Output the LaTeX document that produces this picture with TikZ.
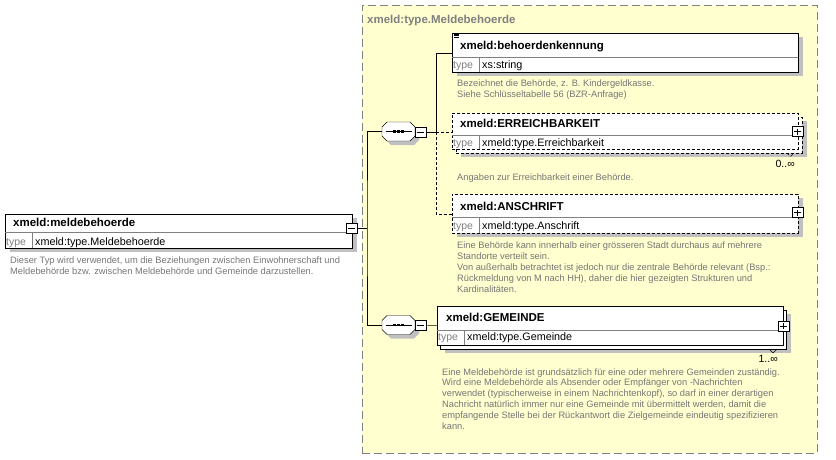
\documentclass[tikz,border=0pt]{standalone}
\usepackage{fontspec}
\setmainfont{Liberation Sans}
\usetikzlibrary{positioning}

\definecolor{groupfill}{RGB}{255,255,208}
\definecolor{groupline}{RGB}{128,128,128}
\definecolor{boxshade}{RGB}{192,192,192}
\definecolor{doctext}{RGB}{118,118,118}

\tikzset{
  elembox/.style={rectangle,draw=black,fill=white,inner sep=0pt,anchor=north west,minimum width=346pt,minimum height=39pt},
  shade box/.style={fill=boxshade,draw=none},
  optline/.style={dash pattern=on 3pt off 2pt},
  optbox/.style={elembox,optline},
  elemname/.style={anchor=base west,inner sep=0pt,font=\bfseries\fontsize{11.5}{13}\selectfont},
  typelbl/.style={anchor=base west,inner sep=0pt,text=groupline,font=\fontsize{10.5}{12}\selectfont},
  typeval/.style={anchor=base west,inner sep=0pt,font=\fontsize{10.8}{12}\selectfont},
  docline/.style={anchor=base west,inner sep=0pt,text=doctext,font=\fontsize{9.3}{11}\selectfont},
  occur/.style={anchor=base east,inner sep=0pt,font=\fontsize{10.5}{12}\selectfont},
  togglebox/.style={rectangle,draw=black,fill=white,inner sep=0pt,minimum width=11pt,minimum height=10pt},
  minusbox/.style={togglebox,path picture={
      \draw ([xshift=2pt]path picture bounding box.west) -- ([xshift=-2pt]path picture bounding box.east);}},
  plusbox/.style={togglebox,path picture={
      \draw ([xshift=2pt]path picture bounding box.west) -- ([xshift=-2pt]path picture bounding box.east);
      \draw ([yshift=-2pt]path picture bounding box.north) -- ([yshift=2pt]path picture bounding box.south);}},
  seqicon/.pic={
    \fill[boxshade,shift={(4,4)}] (-11.5,-9.5) -- (11.5,-9.5) -- (16.5,-4.5) -- (16.5,4.5)
        -- (11.5,9.5) -- (-11.5,9.5) -- (-16.5,4.5) -- (-16.5,-4.5) -- cycle;
    \draw[fill=white] (-11.5,-9.5) -- (11.5,-9.5) -- (16.5,-4.5) -- (16.5,4.5)
        -- (11.5,9.5) -- (-11.5,9.5) -- (-16.5,4.5) -- (-16.5,-4.5) -- cycle;
    \draw (-13,0) -- (13,0);
    \foreach \d in {-4,0,4}
      \fill[black] (\d-1.3,-1.3) rectangle (\d+1.3,1.3);
    \node[rectangle,inner sep=0pt,minimum width=33pt,minimum height=19pt] (-box) at (0,0) {};
    \node[minusbox,anchor=west] (-toggle) at (16,0.5) {};
  }
}

\begin{document}
\begin{tikzpicture}[x=1pt,y=-1pt]
  \useasboundingbox (0,0) rectangle (836,459);

  % complex type group
  \node[rectangle,draw=groupline,fill=groupfill,dash pattern=on 8pt off 4pt,inner sep=0pt,anchor=north west,
        minimum width=455pt,minimum height=448pt] (typegroup) at (362,5) {};
  \node[anchor=base west,inner sep=0pt,text=groupline,font=\bfseries\fontsize{11.5}{13}\selectfont] (typegroup-title) at (367,23.5) {xmeld:type.Meldebehoerde};

  % root element
  \fill[shade box] (10,218) rectangle (357,252);
  \node[elembox,minimum width=347pt,minimum height=34pt] (meldebehoerde) at (5,214) {};
  \draw[groupline] (5,232) -- (352,232);
  \draw[groupline] (32,232) -- (32,248);
  \node[elemname] (meldebehoerde-name) at (13,226.5) {xmeld:meldebehoerde};
  \node[typelbl] (meldebehoerde-lbl) at (6,245) {type};
  \node[typeval] (meldebehoerde-type) at (35,245) {xmeld:type.Meldebehoerde};
  \node[minusbox] (meldebehoerde-toggle) at (351.5,228.5) {};
  \foreach \l [count=\i] in {{Dieser Typ wird verwendet, um die Beziehungen zwischen Einwohnerschaft und},
      {Meldebehörde bzw. zwischen Meldebehörde und Gemeinde darzustellen.}}
    \node[docline] (meldebehoerde-doc\i) at (10,{263+11*(\i-1)}) {\l};

  % sequences
  \pic (seqA) at (398.5,131.5) {seqicon};
  \pic (seqB) at (398.5,325) {seqicon};

  % behoerdenkennung
  \fill[shade box] (457,37) rectangle (803,76);
  \node[elembox] (behoerden) at (452,33) {};
  \draw[groupline] (452,57) -- (798,57);
  \draw[groupline] (479,57) -- (479,72);
  \foreach \yy in {34.2,35.8,37.4}
    \draw[line width=0.7pt] (454,\yy) -- (459,\yy);
  \node[elemname] (behoerden-name) at (460,49.5) {xmeld:behoerdenkennung};
  \node[typelbl] (behoerden-lbl) at (453,68.5) {type};
  \node[typeval] (behoerden-type) at (482,68.5) {xs:string};
  \foreach \l [count=\i] in {{Bezeichnet die Behörde, z. B. Kindergeldkasse.},
      {Siehe Schlüsseltabelle 56 (BZR-Anfrage)}}
    \node[docline] (behoerden-doc\i) at (457,{86.5+11*(\i-1)}) {\l};

  % ERREICHBARKEIT (0..unbounded)
  \fill[shade box] (461,121) rectangle (807,157);
  \node[optbox,minimum height=36pt] (erreich-back) at (456,117) {};
  \draw[optline] (787,153) -- (790.5,156.5) -- (794,153);
  \node[optbox,minimum height=36pt] (erreich) at (452,113) {};
  \draw[groupline] (452,135) -- (798,135);
  \draw[groupline] (479,135) -- (479,149);
  \node[elemname] (erreich-name) at (460,127.5) {xmeld:ERREICHBARKEIT};
  \node[typelbl] (erreich-lbl) at (453,146) {type};
  \node[typeval] (erreich-type) at (482,146) {xmeld:type.Erreichbarkeit};
  \node[plusbox] (erreich-toggle) at (797.5,131.5) {};
  \node[occur] (erreich-occurs) at (795,167) {0..∞};
  \node[docline] (erreich-doc) at (457,180.5) {Angaben zur Erreichbarkeit einer Behörde.};

  % ANSCHRIFT
  \fill[shade box] (457,198) rectangle (803,237);
  \node[optbox] (anschrift) at (452,194) {};
  \draw[groupline] (452,217) -- (798,217);
  \draw[groupline] (479,217) -- (479,233);
  \node[elemname] (anschrift-name) at (460,210) {xmeld:ANSCHRIFT};
  \node[typelbl] (anschrift-lbl) at (453,229) {type};
  \node[typeval] (anschrift-type) at (482,229) {xmeld:type.Anschrift};
  \node[plusbox] (anschrift-toggle) at (797.5,212.5) {};
  \foreach \l [count=\i] in {{Eine Behörde kann innerhalb einer grösseren Stadt durchaus auf mehrere},
      {Standorte verteilt sein.},
      {Von außerhalb betrachtet ist jedoch nur die zentrale Behörde relevant (Bsp.:},
      {Rückmeldung von M nach HH), daher die hier gezeigten Strukturen und},
      {Kardinalitäten.}}
    \node[docline] (anschrift-doc\i) at (457,{248.3+11*(\i-1)}) {\l};

  % GEMEINDE (1..unbounded)
  \fill[shade box] (445,314) rectangle (791,353);
  \node[elembox] (gemeinde-back) at (440,310) {};
  \draw (769,349) -- (773,353) -- (777,349);
  \node[elembox] (gemeinde) at (437,306) {};
  \draw[groupline] (437,330) -- (783,330);
  \draw[groupline] (464,330) -- (464,345);
  \node[elemname] (gemeinde-name) at (446,321.7) {xmeld:GEMEINDE};
  \node[typelbl] (gemeinde-lbl) at (438,340.5) {type};
  \node[typeval] (gemeinde-type) at (467,340.5) {xmeld:type.Gemeinde};
  \node[plusbox] (gemeinde-toggle) at (783.5,326) {};
  \node[occur] (gemeinde-occurs) at (778,362) {1..∞};
  \foreach \l [count=\i] in {{Eine Meldebehörde ist grundsätzlich für eine oder mehrere Gemeinden zuständig.},
      {Wird eine Meldebehörde als Absender oder Empfänger von -Nachrichten},
      {verwendet (typischerweise in einem Nachrichtenkopf), so darf in einer derartigen},
      {Nachricht natürlich immer nur eine Gemeinde mit übermittelt werden, damit die},
      {empfangende Stelle bei der Rückantwort die Zielgemeinde eindeutig spezifizieren},
      {kann.}}
    \node[docline] (gemeinde-doc\i) at (442,{375+10.85*(\i-1)}) {\l};

  % connectors
  \coordinate (trunk) at (367,228.5);
  \coordinate (branchA) at ([xshift=10pt]seqA-toggle.east);
  \draw (meldebehoerde-toggle.east) -- (trunk);
  \draw (seqA-box.west) -| (trunk) |- (seqB-box.west);
  \draw (seqA-toggle.east) -- (branchA) |- (behoerden.west);
  \draw[optline] (branchA) -- (branchA -| erreich.west);
  \draw[optline] (branchA) |- (anschrift.west);
  \draw (seqB-toggle.east) -- (gemeinde.west);
\end{tikzpicture}
\end{document}
